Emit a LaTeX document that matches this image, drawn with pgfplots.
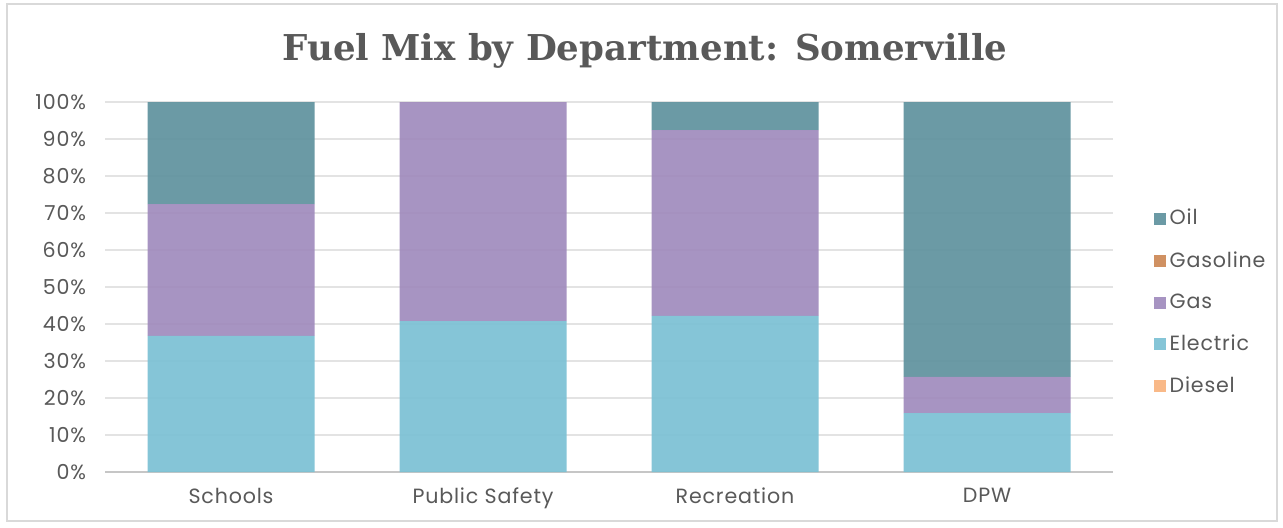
\documentclass[border=0pt]{standalone}
\usepackage{fontspec}
\setmainfont{Poppins}[LetterSpace=4]
\newfontfamily\titlefont{DejaVu Serif}
\usepackage{pgfplots}
\pgfplotsset{compat=1.18}
\definecolor{oilc}{HTML}{5F929E}
\definecolor{gasolinec}{HTML}{CC8855}
\definecolor{gasc}{HTML}{A08BBD}
\definecolor{elecc}{HTML}{7BC1D4}
\definecolor{dieselc}{HTML}{F9B47E}
\definecolor{txt}{HTML}{595959}
\begin{document}
\begin{tikzpicture}
\path[use as bounding box, fill=white] (-52.5pt,-27.5pt) rectangle (589pt,236pt);
\draw[gray!30, line width=0.6pt] (-49pt,-24.5pt) rectangle (586pt,234pt);
\begin{axis}[
  at={(0pt,0pt)}, anchor=south west,
  scale only axis, width=504pt, height=185pt,
  xmin=-0.5, xmax=3.5, ymin=0, ymax=100,
  ybar stacked, bar width=83.5pt,
  axis x line=bottom, axis y line=left,
  x axis line style={draw=gray!45, line width=0.8pt, -},
  y axis line style={draw=none},
  major tick length=0pt,
  xtick=data, xticklabels={Schools, Public Safety, Recreation, DPW},
  ytick={0,10,...,100},
  yticklabel={\pgfmathprintnumber{\tick}\%},
  /pgf/number format/assume math mode=true,
  ymajorgrids, grid style={gray!22, line width=0.7pt},
  tick label style={font=\fontsize{10.3}{12}\selectfont, text=txt},
  xticklabel style={yshift=-4.5pt},
  yticklabel style={xshift=-6pt},
  legend style={at={(1.034,0.733)}, anchor=north west, draw=none, fill=none,
    font=\fontsize{10.3}{12}\selectfont, text=txt, row sep=7.8pt,
    legend cell align=left},
  legend image code/.code={\fill[#1] (0pt,-3pt) rectangle (6pt,3pt);},
  reverse legend,
  clip=false,
]
\addplot[draw=none, fill=dieselc, fill opacity=0.92] coordinates {(0,0) (1,0) (2,0) (3,0)};
\addplot[draw=none, fill=elecc, fill opacity=0.92] coordinates {(0,36.8) (1,40.8) (2,42.2) (3,15.9)};
\addplot[draw=none, fill=gasc, fill opacity=0.92] coordinates {(0,35.6) (1,59.2) (2,50.2) (3,9.8)};
\addplot[draw=none, fill=gasolinec, fill opacity=0.92] coordinates {(0,0) (1,0) (2,0) (3,0)};
\addplot[draw=none, fill=oilc, fill opacity=0.92] coordinates {(0,27.6) (1,0) (2,7.6) (3,74.3)};
\legend{Diesel, Electric, Gas, Gasoline, Oil}
\end{axis}
\node[text=txt, font=\titlefont\bfseries\fontsize{17.8}{21}\selectfont] at (270pt,210.5pt) {Fuel Mix by Department: Somerville};
\end{tikzpicture}
\end{document}
